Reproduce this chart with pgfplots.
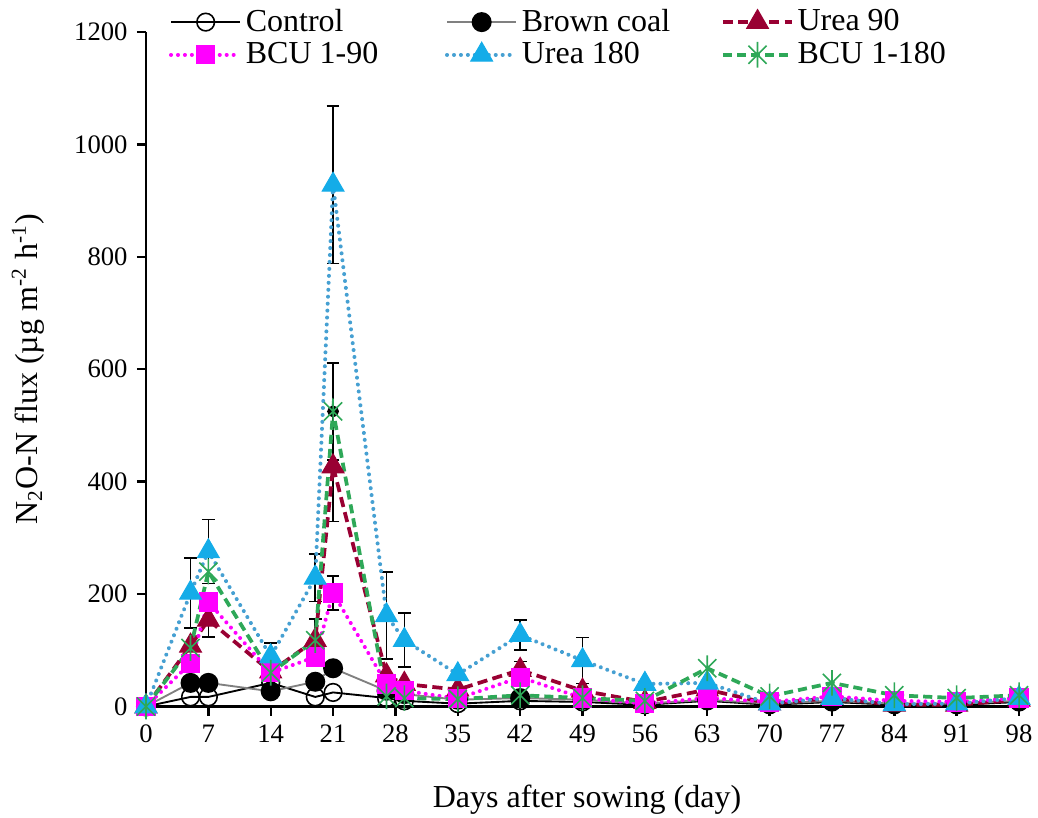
\documentclass[border=0pt]{standalone}
\usepackage{fontspec}
\setmainfont{Liberation Serif}
\usepackage{pgfplots}
\usepackage{pgfplotstable}
\pgfplotsset{compat=1.18}
\usetikzlibrary{calc}

\definecolor{ureaA}{RGB}{153,0,51}
\definecolor{bcuA}{RGB}{255,0,255}
\definecolor{ureaB}{RGB}{20,172,232}
\definecolor{ureaBline}{RGB}{70,160,210}
\definecolor{bcuB}{RGB}{46,168,88}
\definecolor{coal}{RGB}{128,128,128}

% Excel-like star: X plus a vertical bar
\pgfdeclareplotmark{xstar}{%
  \pgfpathmoveto{\pgfqpoint{0pt}{\pgfplotmarksize}}%
  \pgfpathlineto{\pgfqpoint{0pt}{-\pgfplotmarksize}}%
  \pgfpathmoveto{\pgfpoint{-0.7071\pgfplotmarksize}{-0.7071\pgfplotmarksize}}%
  \pgfpathlineto{\pgfpoint{0.7071\pgfplotmarksize}{0.7071\pgfplotmarksize}}%
  \pgfpathmoveto{\pgfpoint{-0.7071\pgfplotmarksize}{0.7071\pgfplotmarksize}}%
  \pgfpathlineto{\pgfpoint{0.7071\pgfplotmarksize}{-0.7071\pgfplotmarksize}}%
  \pgfusepathqstroke}

% N2O-N flux, ug m-2 h-1
\pgfplotstableread{
day ctrl coal u90 b90 u180 b180
0   0   0   0   0   0   0
5   17  42  108 77  202 104
7   17  42  154 186 276 240
14  42  27  62  60  89  60
19  17  44  118 88  229 118
21  25  68  427 202 928 525
27  15  28  55  40  162 18
29  10  22  40  28  118 15
35  5   12  30  14  57  13
42  10  15  65  52  127 20
49  8   12  28  15  82  15
56  3   5   8   5   40  10
63  10  12  30  15  42  68
70  3   5   5   8   5   18
77  8   10  15  18  15  42
84  3   5   3   10  4   20
91  3   5   3   8   5   15
98  8   10  12  15  15  20
}\fluxdata

% error bars (only where drawn)
\pgfplotstableread{
day val err
5   202 62
7   276 57
14  89  24
19  229 42
21  928 140
27  162 77
29  118 48
42  127 27
49  82  41
}\errUB
\pgfplotstableread{
day val err
7   154 30
19  118 38
21  427 98
42  65  15
}\errUA
\pgfplotstableread{
day val err
21  202 30
}\errBA
\pgfplotstableread{
day val err
21  525 86
}\errBB

\begin{document}
\begin{tikzpicture}
\begin{axis}[
    scale only axis,
    width=330.75pt, height=252.94pt,
    xmin=0, xmax=99, ymin=0, ymax=1200,
    xtick={0,7,...,98},
    ytick={0,200,...,1200},
    axis lines=left,
    axis line style={-, black, line width=0.9pt},
    tick align=outside,
    major tick length=3.4pt,
    tick style={black, line width=0.9pt},
    minor tick num=0,
    clip=false,
    /pgf/number format/assume math mode=true,
    /pgf/number format/1000 sep={},
    tick label style={font=\fontsize{10}{12}\selectfont, black},
    label style={font=\fontsize{12}{14}\selectfont},
    xlabel={Days after sowing (day)},
    ylabel={N\textsubscript{2}O-N flux (µg m\textsuperscript{-2} h\textsuperscript{-1})},
    xlabel style={at={(axis description cs:0.5,-0.1386)}, anchor=center},
    ylabel style={at={(axis description cs:-0.1338,0.5)}, anchor=center},
    legend columns=3,
    legend cell align=left,
    legend style={draw=none, fill=none, font=\fontsize{12}{14}\selectfont,
        at={(axis description cs:0.0255,1.040)}, anchor=north west,
        inner sep=0pt, nodes={inner sep=1.3pt}, row sep=0pt},
    legend image code/.code={%
        \draw[mark repeat=2,mark phase=2] plot coordinates {(0pt,0pt)(13pt,0pt)(26pt,0pt)};},
    error bars/error bar style={black, line width=0.6pt, solid},
    error bars/error mark options={rotate=90, black, mark size=2.4pt, line width=0.6pt, solid},
]
\coordinate (O) at (rel axis cs:0,0);

% error bars first, markers sit over them
\addplot[forget plot, only marks, mark=none, error bars/.cd, y dir=both, y explicit]
    table[x=day, y=val, y error=err] {\errUB};
\addplot[forget plot, only marks, mark=none, error bars/.cd, y dir=both, y explicit]
    table[x=day, y=val, y error=err] {\errUA};
\addplot[forget plot, only marks, mark=none, error bars/.cd, y dir=both, y explicit]
    table[x=day, y=val, y error=err] {\errBA};
\addplot[forget plot, only marks, mark=none, error bars/.cd, y dir=both, y explicit]
    table[x=day, y=val, y error=err] {\errBB};

\addplot[black, line width=0.7pt, mark=o, mark size=3.3pt, mark options={solid, black, line width=0.6pt}]
    table[x=day, y=ctrl] {\fluxdata};
\addlegendentry{\makebox[73.4pt][l]{Control}}

\addplot[coal, line width=0.7pt, mark=*, mark size=3.4pt, mark options={solid, black, fill=black}]
    table[x=day, y=coal] {\fluxdata};
\addlegendentry{\makebox[73.4pt][l]{Brown coal}}

\addplot[ureaA, line width=1.4pt, dash pattern=on 3.8pt off 2pt,
    mark=triangle*, mark size=4.7pt, mark options={solid, fill=ureaA, line width=0.4pt}]
    table[x=day, y=u90] {\fluxdata};
\addlegendentry{Urea 90}

\addplot[bcuA, line width=1.5pt, line cap=round, dash pattern=on 0.01pt off 2.6pt,
    mark=square*, mark size=3.4pt, mark options={solid, fill=bcuA, line cap=butt, line width=0.4pt}]
    table[x=day, y=b90] {\fluxdata};
\addlegendentry{\makebox[73.4pt][l]{BCU 1-90}}

\addplot[ureaBline, line width=1.5pt, line cap=round, dash pattern=on 0.01pt off 2.6pt,
    mark=triangle*, mark size=4.7pt, mark options={solid, draw=ureaB, fill=ureaB, line cap=butt, line width=0.4pt}]
    table[x=day, y=u180] {\fluxdata};
\addlegendentry{\makebox[73.4pt][l]{Urea 180}}

\addplot[bcuB, line width=1.4pt, dash pattern=on 3.4pt off 1.9pt,
    mark=xstar, mark size=4.8pt, mark options={solid, line width=0.6pt}]
    table[x=day, y=b180] {\fluxdata};
\addlegendentry{BCU 1-180}
\end{axis}
\pgfresetboundingbox
\path ($(O)+(-54.75pt,-41.81pt)$) rectangle ($(O)+(334.5pt,264.94pt)$);
\end{tikzpicture}
\end{document}
